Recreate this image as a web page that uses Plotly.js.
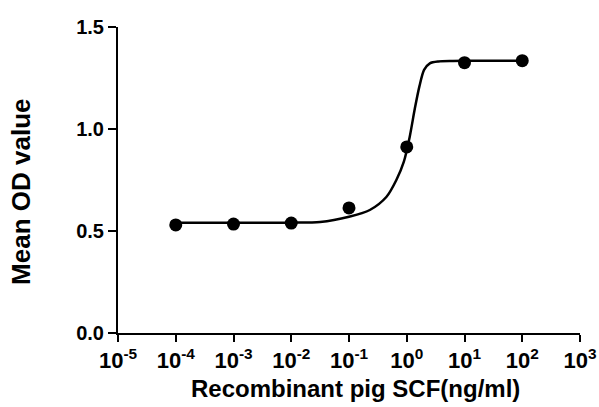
<!DOCTYPE html>
<html>
<head>
<meta charset="utf-8">
<script src="https://cdn.plot.ly/plotly-3.0.1.min.js"></script>
<style>html,body{margin:0;padding:0;background:#fff;}#chart{width:599px;height:407px;}</style>
</head>
<body>
<div id="chart"></div>
<script>
// Measured points
const concentrations = [1e-4, 1e-3, 1e-2, 1e-1, 1, 10, 100];
const meanOD = [0.530, 0.534, 0.539, 0.613, 0.912, 1.325, 1.335];

// Fitted curve (log10 of concentration, OD)
const curveLogX = [-4, -3, -2, -1.5, -1.0, -0.64, -0.35, -0.18, -0.05, 0.05, 0.14, 0.22, 0.30, 0.40, 0.55, 0.8, 1, 2];
const curveY = [0.540, 0.540, 0.541, 0.544, 0.57, 0.603, 0.668, 0.75, 0.84, 0.96, 1.10, 1.21, 1.29, 1.322, 1.331, 1.333, 1.334, 1.335];

const xTickVals = [1e-5, 1e-4, 1e-3, 1e-2, 1e-1, 1, 10, 100, 1000];
const xTickText = ['10<sup>-5</sup>', '10<sup>-4</sup>', '10<sup>-3</sup>', '10<sup>-2</sup>', '10<sup>-1</sup>', '10<sup>0</sup>', '10<sup>1</sup>', '10<sup>2</sup>', '10<sup>3</sup>'];
const yTickVals = [0, 0.5, 1.0, 1.5];
const yTickText = ['0.0', '0.5', '1.0', '1.5'];

const xTitle = 'Recombinant pig SCF(ng/ml)';
const yTitle = 'Mean OD value';

const curveX = curveLogX.map(v => Math.pow(10, v));

const fam = 'Liberation Sans';

Plotly.newPlot('chart', [
  {x: curveX, y: curveY, mode: 'lines', line: {color: '#000', width: 2.5, shape: 'spline', smoothing: 0.8}, hoverinfo: 'skip'},
  {x: concentrations, y: meanOD, mode: 'markers', marker: {color: '#000', size: 13}}
], {
  width: 599, height: 407,
  margin: {l: 118, r: 19, t: 27, b: 74},
  paper_bgcolor: '#fff', plot_bgcolor: '#fff',
  showlegend: false,
  font: {family: fam, color: '#000'},
  xaxis: {
    type: 'log', range: [-5, 3],
    tickvals: xTickVals, ticktext: xTickText,
    ticks: 'outside', ticklen: 7, tickwidth: 2, tickcolor: '#000',
    showline: true, linecolor: '#000', linewidth: 2,
    showgrid: false, zeroline: false,
    tickfont: {family: fam, size: 22, color: '#000', weight: 'bold'}
  },
  yaxis: {
    range: [0, 1.5],
    tickvals: yTickVals, ticktext: yTickText,
    ticks: 'outside', ticklen: 8, tickwidth: 2, tickcolor: '#000',
    showline: true, linecolor: '#000', linewidth: 2,
    showgrid: false, zeroline: false,
    tickfont: {family: fam, size: 20, color: '#000', weight: 'bold'}
  },
  annotations: [
    {text: '<b>' + xTitle + '</b>', xref: 'paper', yref: 'paper', x: 0.513, y: -0.18,
     xanchor: 'center', yanchor: 'middle', showarrow: false,
     font: {family: fam, size: 24, color: '#000'}},
    {text: '<b>' + yTitle + '</b>', xref: 'paper', yref: 'paper', x: -0.21, y: 0.461,
     xanchor: 'center', yanchor: 'middle', showarrow: false, textangle: -90,
     font: {family: fam, size: 26, color: '#000'}}
  ]
}, {staticPlot: true});
</script>
</body>
</html>
